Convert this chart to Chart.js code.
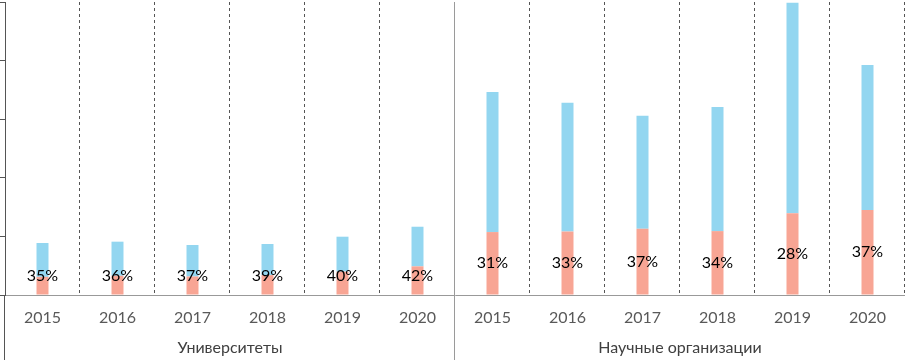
<!DOCTYPE html>
<html>
<head>
<meta charset="utf-8">
<script src="https://cdn.jsdelivr.net/npm/chart.js@4"></script>
<style>
  html, body { margin: 0; padding: 0; background: #fff; }
</style>
</head>
<body>
<canvas id="chart" width="905" height="360"></canvas>
<script>
// Two groups of years, each bar split into a share (pink, labelled) and the rest (blue).
const YEARS = ["2015", "2016", "2017", "2018", "2019", "2020",
  "2015", "2016", "2017", "2018", "2019", "2020"];
const GROUPS = ["Университеты", "Научные организации"];
const GROUP_SPLIT = 6; // first category of the second group

const SHARE_VALUES = [310, 328, 316, 339, 398, 489, 1074, 1083, 1132, 1090, 1396, 1452];
const REST_VALUES = [577, 582, 537, 531, 597, 676, 2389, 2198, 1927, 2117, 3591, 2472];
const SHARE_LABELS = ["35%", "36%", "37%", "39%", "40%", "42%", "31%", "33%", "37%", "34%", "28%", "37%"];

const Y_MAX = 5000;
const Y_STEP = 1000;

const FONT = "Lato";

const dividers = {
  id: "dividers",
  beforeDatasetsDraw(chart) {
    const { ctx, chartArea: a, scales: { x } } = chart;
    ctx.save();
    ctx.lineWidth = 1;
    for (let i = 1; i <= YEARS.length; i++) {
      const px = Math.round(x.getPixelForValue(i - 0.5)) - 0.5;
      ctx.beginPath();
      if (i === GROUP_SPLIT) {
        ctx.setLineDash([]);
        ctx.strokeStyle = "#9a9a9a";
        ctx.moveTo(px, a.top);
        ctx.lineTo(px, chart.height);
      } else {
        ctx.setLineDash([3, 3]);
        ctx.strokeStyle = "#555";
        ctx.moveTo(px, a.top);
        ctx.lineTo(px, a.bottom);
      }
      ctx.stroke();
    }
    // left axis carries on down through the label rows
    ctx.setLineDash([]);
    ctx.strokeStyle = "#555";
    ctx.beginPath();
    ctx.moveTo(a.left - 0.5, a.bottom);
    ctx.lineTo(a.left - 0.5, chart.height);
    ctx.stroke();
    ctx.restore();
  },
};

const shareLabels = {
  id: "shareLabels",
  afterDatasetsDraw(chart) {
    const { ctx } = chart;
    const meta = chart.getDatasetMeta(0);
    ctx.save();
    ctx.font = `16px ${FONT}`;
    ctx.fillStyle = "#000";
    ctx.textAlign = "center";
    ctx.textBaseline = "middle";
    meta.data.forEach((bar, i) => {
      const y = Math.min((bar.y + bar.base) / 2, bar.base - 18.5);
      ctx.fillText(SHARE_LABELS[i], bar.x, y);
    });
    ctx.restore();
  },
};

new Chart(document.getElementById("chart"), {
  type: "bar",
  data: {
    labels: YEARS,
    datasets: [
      { label: "share", data: SHARE_VALUES, backgroundColor: "#f8a594", barPercentage: 0.16, categoryPercentage: 1 },
      { label: "rest", data: REST_VALUES, backgroundColor: "#93d6f0", barPercentage: 0.16, categoryPercentage: 1 },
    ],
  },
  options: {
    responsive: false,
    animation: false,
    devicePixelRatio: 1,
    layout: { padding: { top: 2, left: 0, right: 0, bottom: 0 } },
    plugins: { legend: { display: false }, tooltip: { enabled: false } },
    scales: {
      x: {
        stacked: true,
        offset: true,
        weight: 0,
        grid: { display: false },
        border: { display: true, color: "#999" },
        ticks: { color: "#595959", font: { family: FONT, size: 16 }, padding: 5, maxRotation: 0, autoSkip: false },
        afterFit: (s) => { s.height = 33; },
      },
      x2: {
        type: "category",
        labels: GROUPS,
        position: "bottom",
        offset: true,
        weight: 1,
        grid: { display: false },
        border: { display: false },
        ticks: { color: "#404040", font: { family: FONT, size: 16 }, padding: 2, maxRotation: 0 },
        afterFit: (s) => { s.height = 32; },
      },
      y: {
        stacked: true,
        min: 0,
        max: Y_MAX,
        ticks: { display: false, stepSize: Y_STEP },
        grid: { drawOnChartArea: false, drawTicks: true, tickLength: 5, color: "#555" },
        border: { display: true, color: "#555" },
        afterFit: (s) => { s.width = 5; },
      },
    },
  },
  plugins: [dividers, shareLabels],
});
</script>
</body>
</html>
